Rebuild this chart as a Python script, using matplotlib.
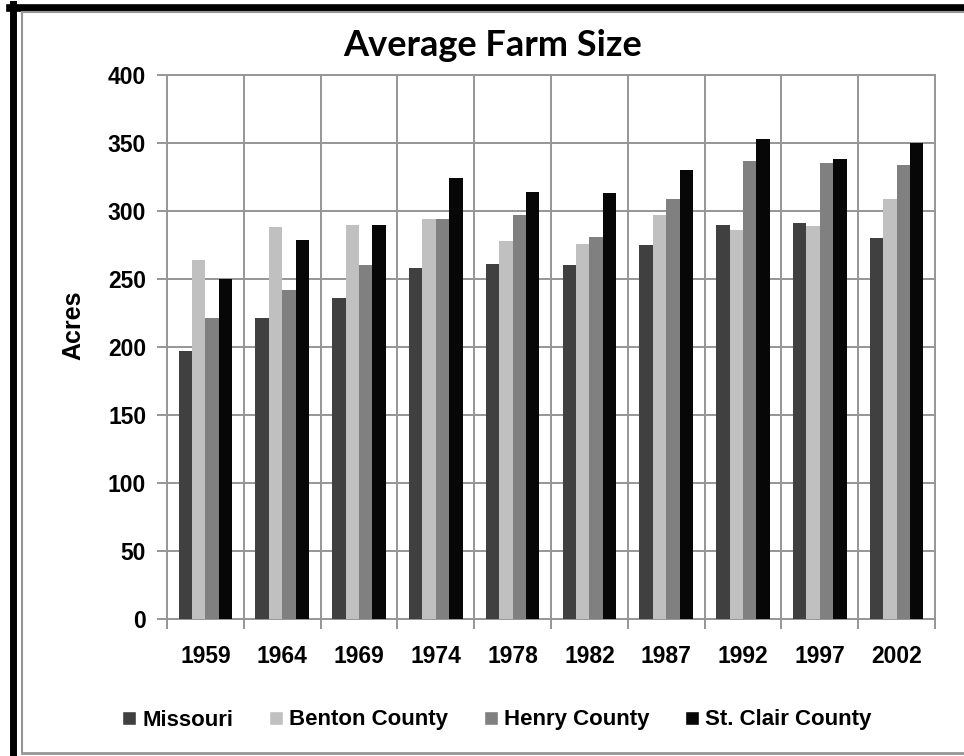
import matplotlib
matplotlib.use("Agg")
import matplotlib.pyplot as plt
import numpy as np
from matplotlib.lines import Line2D

years = ["1959", "1964", "1969", "1974", "1978", "1982", "1987", "1992", "1997", "2002"]
missouri = [197, 221, 236, 258, 261, 260, 275, 290, 291, 280]
benton = [264, 288, 290, 294, 278, 276, 297, 286, 289, 309]
henry = [221, 242, 260, 294, 297, 281, 309, 337, 335, 334]
st_clair = [250, 279, 290, 324, 314, 313, 330, 353, 338, 350]
serie_names = ["Missouri", "Benton County", "Henry County", "St. Clair County"]
cores = ["#404040", "#c0c0c0", "#808080", "#070707"]

fig = plt.figure(figsize=(9.64, 7.56), dpi=100)
ax = fig.add_axes([167/964, 1 - 619/756, (935 - 167)/964, (619 - 75)/756])

x = np.arange(len(years))
largura = 0.175
series = [missouri, benton, henry, st_clair]
for i, valores in enumerate(series):
    ax.bar(x + (i - 1.5) * largura, valores, largura, color=cores[i], label=serie_names[i],
           zorder=3, linewidth=0)

ax.set_xlim(-0.5, len(years) - 0.5)
ax.set_ylim(0, 400)
ax.set_yticks(range(0, 401, 50))
ax.set_xticks(x)
ax.set_xticklabels(years)
ax.set_xticks(np.arange(-0.5, len(years), 1), minor=True)

# grades horizontais e verticais
for v in range(50, 401, 50):
    ax.axhline(v, color="#969696", lw=1.4, zorder=1)
for c in np.arange(0.5, len(years) - 0.5, 1):
    ax.axvline(c, color="#969696", lw=1.4, zorder=1)

for lado in ["top", "right", "left", "bottom"]:
    ax.spines[lado].set_color("#969696")
    ax.spines[lado].set_linewidth(1.4)

ax.tick_params(axis="y", length=7, width=1.4, color="#969696", pad=8)
ax.tick_params(axis="x", which="major", length=0, pad=19)
ax.tick_params(axis="x", which="minor", length=7, width=1.4, color="#969696")
for lbl in ax.get_xticklabels() + ax.get_yticklabels():
    lbl.set_fontfamily("Liberation Sans")
    lbl.set_fontweight("bold")
    lbl.set_fontsize(16.5)

fig.text(73/964, 1 - 325/756, "Acres", rotation=90, ha="center", va="center",
         fontsize=18, fontweight="bold", family="Liberation Sans")
fig.text(493/964, 1 - 46/756, "Average Farm Size", ha="center", va="center",
         fontsize=26, fontweight="bold", family="Lato")

handles = [Line2D([0], [0], marker="s", color="w", markerfacecolor=c, markersize=10, linestyle="None")
           for c in cores]
leg = fig.legend(handles, serie_names, loc="center", bbox_to_anchor=(497/964, 1 - 720/756),
                 ncol=4, frameon=False, handlelength=0.6, handletextpad=0.3, columnspacing=1.6,
                 prop={"family": "Liberation Sans", "weight": "bold", "size": 16})

# molduras
fig.add_artist(Line2D([13/964, 13/964], [0, 1 - 4/756], color="black", lw=5, transform=fig.transFigure))
fig.add_artist(Line2D([10/964, 1], [1 - 7.5/756, 1 - 7.5/756], color="black", lw=5.5, transform=fig.transFigure))
fig.add_artist(Line2D([22/964, 22/964], [1 - 753/756, 1 - 12/756], color="#969696", lw=1.5, transform=fig.transFigure))
fig.add_artist(Line2D([22/964, 1], [1 - 12/756, 1 - 12/756], color="#969696", lw=1.5, transform=fig.transFigure))
fig.add_artist(Line2D([22/964, 1], [1 - 753/756, 1 - 753/756], color="#969696", lw=2, transform=fig.transFigure))

fig.savefig("out.png", dpi=100)
